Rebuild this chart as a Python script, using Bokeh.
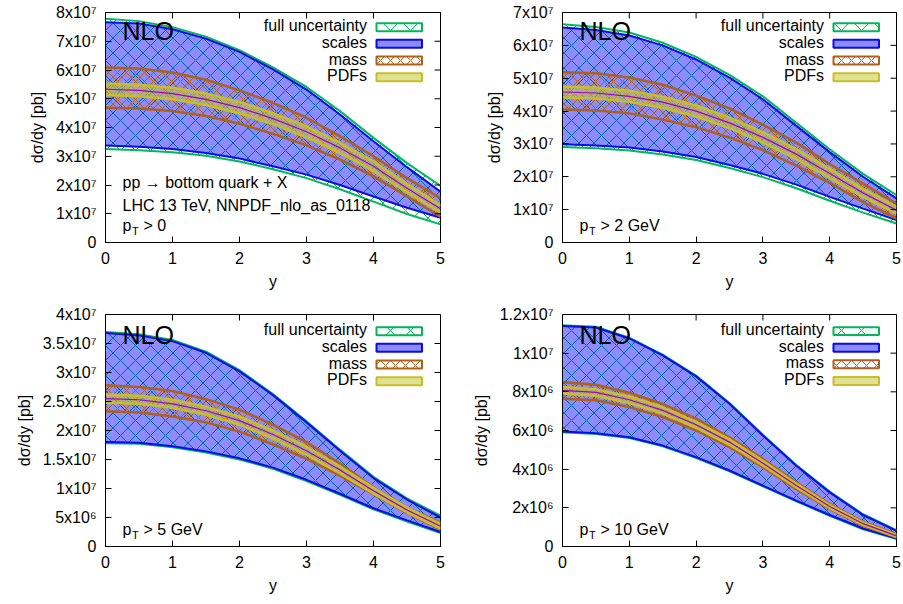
from bokeh.plotting import figure
from bokeh.layouts import column, row
from bokeh.models import Range1d, FixedTicker, Label
from bokeh.embed import file_html
from bokeh.resources import INLINE

# ---------------- data ----------------
rapidity = [0.0, 0.5, 1.0, 1.5, 2.0, 2.5, 3.0, 3.5, 4.0, 4.5, 5.0]

# pT > 0  (units 1e7 pb)
p0_full_up  = [7.78, 7.70, 7.49, 7.16, 6.69, 6.09, 5.41, 4.57, 3.64, 2.76, 1.97]
p0_scale_up = [7.66, 7.62, 7.42, 7.09, 6.63, 6.02, 5.32, 4.45, 3.52, 2.62, 1.77]
p0_scale_dn = [3.37, 3.33, 3.25, 3.11, 2.92, 2.65, 2.36, 2.00, 1.60, 1.21, 0.86]
p0_full_dn  = [3.25, 3.21, 3.14, 3.02, 2.82, 2.55, 2.24, 1.85, 1.42, 0.99, 0.63]
p0_mass_up  = [6.09, 6.05, 5.91, 5.66, 5.29, 4.86, 4.34, 3.70, 3.00, 2.24, 1.54]
p0_mass_dn  = [4.69, 4.66, 4.57, 4.40, 4.13, 3.78, 3.38, 2.88, 2.30, 1.60, 0.90]
p0_pdf_up   = [5.53, 5.49, 5.38, 5.18, 4.89, 4.50, 4.04, 3.47, 2.82, 2.04, 1.29]
p0_pdf_dn   = [5.13, 5.09, 4.98, 4.78, 4.49, 4.12, 3.66, 3.11, 2.48, 1.74, 1.05]
p0_central  = [5.33, 5.29, 5.18, 4.98, 4.69, 4.31, 3.85, 3.29, 2.65, 1.89, 1.17]

# pT > 2 GeV (units 1e7 pb)
p2_full_up  = [6.64, 6.56, 6.39, 6.08, 5.65, 5.10, 4.45, 3.64, 2.84, 2.09, 1.44]
p2_scale_up = [6.54, 6.47, 6.30, 6.00, 5.57, 5.02, 4.36, 3.55, 2.75, 2.00, 1.34]
p2_scale_dn = [2.99, 2.95, 2.89, 2.77, 2.60, 2.36, 2.09, 1.76, 1.39, 1.03, 0.68]
p2_full_dn  = [2.91, 2.87, 2.80, 2.68, 2.51, 2.27, 1.99, 1.65, 1.27, 0.91, 0.58]
p2_mass_up  = [5.18, 5.15, 5.02, 4.80, 4.47, 4.08, 3.59, 3.04, 2.39, 1.79, 1.18]
p2_mass_dn  = [4.05, 4.02, 3.93, 3.74, 3.51, 3.19, 2.81, 2.34, 1.81, 1.23, 0.73]
p2_pdf_up   = [4.75, 4.72, 4.62, 4.44, 4.17, 3.80, 3.36, 2.84, 2.24, 1.63, 1.08]
p2_pdf_dn   = [4.41, 4.38, 4.28, 4.10, 3.83, 3.48, 3.04, 2.54, 1.96, 1.39, 0.88]
p2_central  = [4.58, 4.55, 4.45, 4.27, 4.00, 3.64, 3.20, 2.69, 2.10, 1.51, 0.98]

# pT > 5 GeV (units 1e7 pb)
p5_full_up  = [3.70, 3.66, 3.56, 3.36, 3.04, 2.63, 2.16, 1.67, 1.20, 0.83, 0.53]
p5_scale_up = [3.68, 3.64, 3.54, 3.34, 3.02, 2.61, 2.14, 1.65, 1.18, 0.81, 0.50]
p5_scale_dn = [1.80, 1.79, 1.73, 1.64, 1.52, 1.36, 1.15, 0.91, 0.66, 0.45, 0.25]
p5_full_dn  = [1.78, 1.77, 1.71, 1.62, 1.50, 1.34, 1.13, 0.89, 0.64, 0.43, 0.23]
p5_mass_up  = [2.78, 2.75, 2.68, 2.54, 2.36, 2.10, 1.80, 1.43, 1.02, 0.67, 0.41]
p5_mass_dn  = [2.33, 2.31, 2.24, 2.14, 1.98, 1.76, 1.51, 1.22, 0.90, 0.58, 0.29]
p5_pdf_up   = [2.62, 2.60, 2.53, 2.41, 2.24, 2.00, 1.72, 1.38, 1.01, 0.67, 0.39]
p5_pdf_dn   = [2.48, 2.46, 2.39, 2.27, 2.10, 1.86, 1.58, 1.26, 0.91, 0.59, 0.31]
p5_central  = [2.55, 2.53, 2.46, 2.34, 2.17, 1.93, 1.65, 1.32, 0.96, 0.63, 0.35]

# pT > 10 GeV (units 1e6 pb)
p10_full_up  = [11.45, 11.37, 10.80, 9.93, 8.84, 7.42, 5.78, 4.22, 2.84, 1.67, 0.85]
p10_scale_up = [11.41, 11.33, 10.76, 9.89, 8.80, 7.38, 5.74, 4.18, 2.80, 1.63, 0.81]
p10_scale_dn = [5.95, 5.86, 5.65, 5.22, 4.62, 3.93, 3.15, 2.37, 1.63, 0.93, 0.42]
p10_full_dn  = [5.91, 5.82, 5.61, 5.18, 4.58, 3.89, 3.11, 2.33, 1.59, 0.89, 0.38]
p10_mass_up  = [8.51, 8.37, 7.95, 7.38, 6.61, 5.65, 4.53, 3.32, 2.20, 1.28, 0.64]
p10_mass_dn  = [7.64, 7.56, 7.21, 6.69, 6.00, 5.14, 4.10, 2.97, 1.94, 1.07, 0.47]
p10_pdf_up   = [8.25, 8.14, 7.76, 7.20, 6.45, 5.54, 4.43, 3.25, 2.15, 1.24, 0.60]
p10_pdf_dn   = [7.91, 7.80, 7.42, 6.88, 6.15, 5.26, 4.19, 3.05, 1.99, 1.12, 0.50]
p10_central  = [8.08, 7.97, 7.59, 7.04, 6.30, 5.40, 4.31, 3.15, 2.07, 1.18, 0.55]

x_ticks = [0, 1, 2, 3, 4, 5]
p0_yticks = [0, 1e7, 2e7, 3e7, 4e7, 5e7, 6e7, 7e7, 8e7]
p0_ylabels = ["0", "1x10⁷", "2x10⁷", "3x10⁷", "4x10⁷", "5x10⁷", "6x10⁷", "7x10⁷", "8x10⁷"]
p2_yticks = [0, 1e7, 2e7, 3e7, 4e7, 5e7, 6e7, 7e7]
p2_ylabels = ["0", "1x10⁷", "2x10⁷", "3x10⁷", "4x10⁷", "5x10⁷", "6x10⁷", "7x10⁷"]
p5_yticks = [0, 5e6, 1e7, 1.5e7, 2e7, 2.5e7, 3e7, 3.5e7, 4e7]
p5_ylabels = ["0", "5x10⁶", "1x10⁷", "1.5x10⁷", "2x10⁷", "2.5x10⁷", "3x10⁷", "3.5x10⁷", "4x10⁷"]
p10_yticks = [0, 2e6, 4e6, 6e6, 8e6, 1e7, 1.2e7]
p10_ylabels = ["0", "2x10⁶", "4x10⁶", "6x10⁶", "8x10⁶", "1x10⁷", "1.2x10⁷"]

legend_names = ["full uncertainty", "scales", "mass", "PDFs"]

# ---------------- style ----------------
FONT = "Liberation Sans"
GREEN = "#00b85a"
BLUE_LINE = "#0a0aee"
BLUE_FILL = "#0000ff"
ORANGE = "#b0601a"
YEL_LINE = "#c8be28"
YEL_FILL = "#c8c83c"
MAGENTA = "#a000c8"


def scaled(vals, unit):
    return [v * unit for v in vals]


def make_panel(series, unit, ymax, yticks, ylabels, width, height,
               bl, br, bt, bb, row_shift, pt_text, extra_lines):
    fw = width - bl - br
    fh = height - bt - bb
    p = figure(width=width, height=height, output_backend="svg", toolbar_location=None,
               x_range=Range1d(0, 5), y_range=Range1d(0, ymax),
               min_border_left=bl, min_border_right=br, min_border_top=bt,
               min_border_bottom=bb, background_fill_color="white",
               border_fill_color="white")
    p.grid.visible = False
    p.outline_line_color = "black"
    p.outline_line_width = 1

    def dx(px):
        return px * 5.0 / fw

    def dy(px):
        return px * ymax / fh

    full_up, scale_up, scale_dn, full_dn, mass_up, mass_dn, pdf_up, pdf_dn, central = \
        [scaled(s, unit) for s in series]

    # full uncertainty hatch
    p.varea(x=rapidity, y1=full_dn, y2=full_up, fill_alpha=0, hatch_pattern="x",
            hatch_color=GREEN, hatch_scale=15, hatch_weight=1)
    # scales fill
    p.varea(x=rapidity, y1=scale_dn, y2=scale_up, fill_color=BLUE_FILL, fill_alpha=0.45)
    p.line(rapidity, full_up, line_color=GREEN, line_width=2)
    p.line(rapidity, full_dn, line_color=GREEN, line_width=2)
    p.line(rapidity, scale_up, line_color=BLUE_LINE, line_width=2)
    p.line(rapidity, scale_dn, line_color=BLUE_LINE, line_width=2)
    # mass
    p.varea(x=rapidity, y1=mass_dn, y2=mass_up, fill_alpha=0, hatch_pattern="x",
            hatch_color=ORANGE, hatch_scale=9, hatch_weight=1)
    p.line(rapidity, mass_up, line_color=ORANGE, line_width=2.5)
    p.line(rapidity, mass_dn, line_color=ORANGE, line_width=2.5)
    # PDFs
    p.varea(x=rapidity, y1=pdf_dn, y2=pdf_up, fill_color=YEL_FILL, fill_alpha=0.55)
    p.line(rapidity, pdf_up, line_color=YEL_LINE, line_width=2.5)
    p.line(rapidity, pdf_dn, line_color=YEL_LINE, line_width=2.5)
    # central
    p.line(rapidity, central, line_color=MAGENTA, line_width=1.2)

    # axes
    p.xaxis.ticker = FixedTicker(ticks=x_ticks)
    p.yaxis.ticker = FixedTicker(ticks=yticks)
    p.yaxis.major_label_overrides = {t: lab for t, lab in zip(yticks, ylabels)}
    for ax in p.xaxis + p.yaxis:
        ax.major_tick_in = 6
        ax.major_tick_out = 0
        ax.minor_tick_in = 0
        ax.minor_tick_out = 0
        ax.axis_line_color = "black"
        ax.major_tick_line_color = "black"
        ax.axis_label_text_font = FONT
        ax.axis_label_text_font_style = "normal"
        ax.axis_label_text_font_size = "16px"
        ax.major_label_text_font = FONT
        ax.major_label_text_font_size = "16px"
        ax.major_label_text_color = "black"
        ax.axis_label_text_color = "black"
    p.xaxis.axis_label = "y"
    p.xaxis.major_label_standoff = 9
    p.xaxis.axis_label_standoff = 6
    p.yaxis.axis_label = "dσ/dy [pb]"
    p.yaxis.major_label_standoff = 9
    p.yaxis.axis_label_standoff = 7

    # mirrored ticks on top and right edges
    nx = len(x_ticks)
    p.segment(x0=x_ticks, y0=[ymax] * nx, x1=x_ticks, y1=[ymax - dy(6)] * nx,
              line_color="black", line_width=1)
    ny = len(yticks)
    p.segment(x0=[5] * ny, y0=yticks, x1=[5 - dx(6)] * ny, y1=yticks,
              line_color="black", line_width=1)

    # NLO
    p.add_layout(Label(x=dx(17), y=ymax - dy(18.5 + row_shift), text="NLO",
                       text_align="left", text_baseline="middle", text_font=FONT,
                       text_font_size="25px", text_color="black"))

    # legend (gnuplot style: text right, sample box at right)
    rows_px = [14.7, 31.3, 48.0, 64.7]
    for i, name in enumerate(legend_names):
        cy = ymax - dy(rows_px[i] + row_shift)
        p.add_layout(Label(x=dx(261.5), y=cy + dy(1.5), text=name, text_align="right",
                           text_baseline="middle", text_font=FONT, text_font_size="16px",
                           text_color="black"))
        l, r = dx(271), dx(316.5)
        b, t = cy - dy(4), cy + dy(4)
        if i == 0:
            p.quad(left=[l], right=[r], bottom=[b], top=[t], fill_alpha=0,
                   hatch_pattern="x", hatch_color=GREEN, hatch_scale=20, hatch_weight=1,
                   line_color=GREEN, line_width=2)
        elif i == 1:
            p.quad(left=[l], right=[r], bottom=[b], top=[t], fill_color=BLUE_FILL,
                   fill_alpha=0.45, line_color=BLUE_LINE, line_width=2)
        elif i == 2:
            p.quad(left=[l], right=[r], bottom=[b], top=[t], fill_alpha=0,
                   hatch_pattern="x", hatch_color=ORANGE, hatch_scale=10, hatch_weight=1,
                   line_color=ORANGE, line_width=2)
        else:
            p.quad(left=[l], right=[r], bottom=[b], top=[t], fill_color=YEL_FILL,
                   fill_alpha=0.55, line_color=YEL_LINE, line_width=2)

    # text lines (bottom-left)
    for txt, px_from_bottom in extra_lines:
        p.add_layout(Label(x=dx(17), y=dy(px_from_bottom), text=txt, text_align="left",
                           text_baseline="middle", text_font=FONT, text_font_size="16px",
                           text_color="black"))
    base_y = dy(17)
    p.add_layout(Label(x=dx(17), y=base_y, text="p", text_align="left",
                       text_baseline="middle", text_font=FONT, text_font_size="16px",
                       text_color="black"))
    p.add_layout(Label(x=dx(17), y=base_y, x_offset=9.5, y_offset=-5, text="T",
                       text_align="left", text_baseline="middle", text_font=FONT,
                       text_font_size="11px", text_color="black"))
    p.add_layout(Label(x=dx(17), y=base_y, x_offset=21, text=pt_text, text_align="left",
                       text_baseline="middle", text_font=FONT, text_font_size="16px",
                       text_color="black"))
    return p


s0 = [p0_full_up, p0_scale_up, p0_scale_dn, p0_full_dn, p0_mass_up, p0_mass_dn,
      p0_pdf_up, p0_pdf_dn, p0_central]
s2 = [p2_full_up, p2_scale_up, p2_scale_dn, p2_full_dn, p2_mass_up, p2_mass_dn,
      p2_pdf_up, p2_pdf_dn, p2_central]
s5 = [p5_full_up, p5_scale_up, p5_scale_dn, p5_full_dn, p5_mass_up, p5_mass_dn,
      p5_pdf_up, p5_pdf_dn, p5_central]
s10 = [p10_full_up, p10_scale_up, p10_scale_dn, p10_full_dn, p10_mass_up, p10_mass_dn,
       p10_pdf_up, p10_pdf_dn, p10_central]

p1 = make_panel(s0, 1e7, 8e7, p0_yticks, p0_ylabels, 451, 300, 105, 11, 12, 58, 0,
                "> 0", [("pp → bottom quark + X", 60.3), ("LHC 13 TeV, NNPDF_nlo_as_0118", 37)])
p2 = make_panel(s2, 1e7, 7e7, p2_yticks, p2_ylabels, 452, 300, 111, 7, 12, 58, 0,
                "> 2 GeV", [])
p3 = make_panel(s5, 1e7, 4e7, p5_yticks, p5_ylabels, 451, 304, 105, 11, 14, 58, 2,
                "> 5 GeV", [])
p4 = make_panel(s10, 1e6, 1.2e7, p10_yticks, p10_ylabels, 452, 304, 111, 7, 14, 57, 2,
                "> 10 GeV", [])

layout = column(row(p1, p2), row(p3, p4))
open("out.html", "w").write(file_html(layout, INLINE))
